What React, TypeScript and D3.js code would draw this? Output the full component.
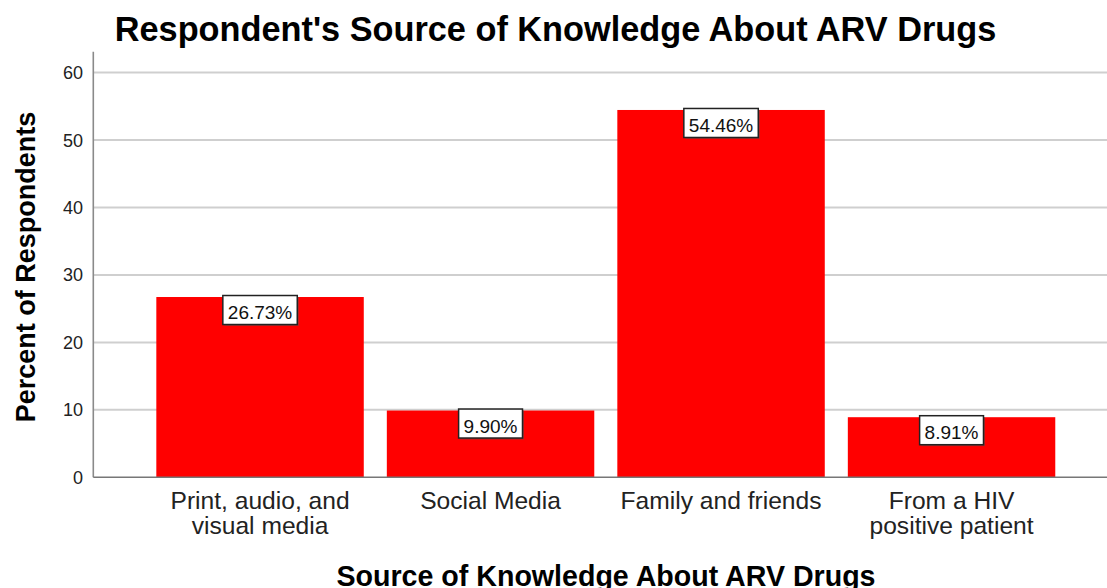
import React from "react";
import * as d3 from "d3";

const categories: string[][] = [
  ["Print, audio, and", "visual media"],
  ["Social Media"],
  ["Family and friends"],
  ["From a HIV", "positive patient"],
];
const categoryKeys = ["print", "social", "family", "hiv"];
const percents = [26.73, 9.9, 54.46, 8.91];
const valueLabels = ["26.73%", "9.90%", "54.46%", "8.91%"];
const yTicks = [0, 10, 20, 30, 40, 50, 60];

const W = 1107;
const H = 588;
const FONT = "'Liberation Sans', Arial, Helvetica, sans-serif";

export default function App() {
  const axisX = 93.3;
  const plotRight = W;
  const y = d3.scaleLinear().domain([0, 63.1]).range([477.3, 51.7]);
  const x = d3
    .scaleBand<string>()
    .domain(categoryKeys)
    .range([144.8, 1066.8])
    .paddingInner(0.1)
    .paddingOuter(0.05);
  const labelFont = 19;
  const measure = (s: string) => {
    const w: Record<string, number> = { ".": 0.278, "%": 0.889 };
    let t = 0;
    for (const ch of s) t += w[ch] ?? 0.556;
    return t * labelFont;
  };

  return (
    <svg
      width={W}
      height={H}
      style={{ position: "absolute", left: 0, top: 0, background: "#fff" }}
      fontFamily={FONT}
    >
      <rect x={0} y={0} width={W} height={H} fill="#fff" />
      {/* gridlines */}
      {yTicks.slice(1).map((t) => (
        <line
          key={"g" + t}
          x1={axisX}
          x2={plotRight}
          y1={y(t)}
          y2={y(t)}
          stroke="#cfcfcf"
          strokeWidth={2}
        />
      ))}
      {/* bars */}
      {categoryKeys.map((k, i) => (
        <rect
          key={"b" + k}
          x={x(k)!}
          y={y(percents[i])}
          width={x.bandwidth()}
          height={y(0) - y(percents[i])}
          fill="#ff0000"
        />
      ))}
      {/* axes */}
      <line x1={axisX} x2={axisX} y1={y.range()[1]} y2={y(0)} stroke="#8a8a8a" strokeWidth={1.6} />
      <line x1={axisX} x2={plotRight} y1={y(0)} y2={y(0)} stroke="#777" strokeWidth={1.6} />
      {/* y tick labels */}
      {yTicks.map((t) => (
        <text
          key={"t" + t}
          x={83}
          y={y(t)}
          dy="0.36em"
          textAnchor="end"
          fontSize={18}
          fill="#222"
        >
          {t}
        </text>
      ))}
      {/* value labels */}
      {categoryKeys.map((k, i) => {
        const cx = x(k)! + x.bandwidth() / 2;
        const tw = measure(valueLabels[i]);
        const bw = tw + 10;
        const top = y(percents[i]) - 1.5;
        return (
          <g key={"l" + k}>
            <rect
              x={cx - bw / 2 + 1.5}
              y={top + 1.5}
              width={bw}
              height={29}
              fill="#555"
              opacity={0.5}
            />
            <rect
              x={cx - bw / 2}
              y={top}
              width={bw}
              height={29}
              fill="#fff"
              stroke="#222"
              strokeWidth={1.5}
            />
            <text x={cx} y={top + 23.5} textAnchor="middle" fontSize={labelFont} fill="#111">
              {valueLabels[i]}
            </text>
          </g>
        );
      })}
      {/* x category labels */}
      {categoryKeys.map((k, i) => {
        const cx = x(k)! + x.bandwidth() / 2;
        return (
          <g key={"c" + k}>
            {categories[i].map((line, j) => (
              <text
                key={j}
                x={cx}
                y={509.3 + j * 24.7}
                textAnchor="middle"
                fontSize={24.6}
                fill="#222"
              >
                {line}
              </text>
            ))}
          </g>
        );
      })}
      {/* titles */}
      <text x={555.5} y={41} textAnchor="middle" fontSize={34.3} fontWeight="bold" fill="#000">
        Respondent's Source of Knowledge About ARV Drugs
      </text>
      <text
        transform="translate(34.5,267) rotate(-90)"
        textAnchor="middle"
        fontSize={27}
        fontWeight="bold"
        fill="#000"
      >
        Percent of Respondents
      </text>
      <text x={606} y={586} textAnchor="middle" fontSize={28.6} fontWeight="bold" fill="#000">
        Source of Knowledge About ARV Drugs
      </text>
    </svg>
  );
}
